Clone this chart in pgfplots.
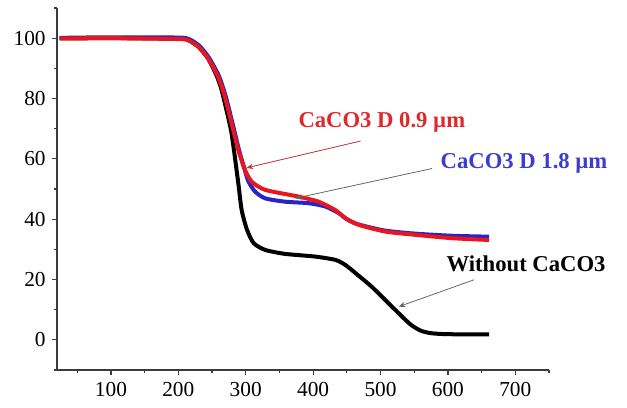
\documentclass[border=0pt]{standalone}
\usepackage{fontspec}
\setmainfont{Liberation Serif}
\usepackage{pgfplots}
\pgfplotsset{compat=1.18}
\usetikzlibrary{arrows.meta}
\definecolor{cred}{RGB}{232,22,30}
\definecolor{cblue}{RGB}{40,36,200}
\definecolor{lred}{RGB}{222,40,44}
\definecolor{lblue}{RGB}{60,60,205}
\definecolor{axgray}{RGB}{60,60,60}
\begin{document}
\begin{tikzpicture}
\useasboundingbox (-42.75pt,-27.75pt) rectangle (427.5pt,277.5pt);
\begin{axis}[
  at={(0,0)}, anchor=south west,
  scale only axis, width=369pt, height=271.5pt,
  xmin=20, xmax=750, ymin=-10, ymax=110,
  axis lines=left,
  axis line style={-, axgray, line width=1.1pt},
  xtick={100,200,...,700}, ytick={0,20,...,100},
  minor xtick={50,150,...,750}, minor ytick={-10,10,...,110},
  tick align=outside,
  major tick length=4pt, minor tick length=2.5pt,
  every tick/.style={axgray, line width=0.9pt},
  tick label style={font=\fontsize{16}{18}\selectfont},
  xticklabel style={yshift=-2pt},
  yticklabel style={xshift=-1pt},
  /pgf/number format/assume math mode=true,
  clip=false,
]
% Without CaCO3
\addplot[black, line width=3pt, smooth, tension=0.4] coordinates {
(24,99.9) (100,100) (200,99.8) (215,99.3) (230,97.1) (244,93.3) (257,87.5) (264,83)
(269,78.5) (279,68.4) (289,51.9) (294,43) (302,36.4) (312,32) (329,29.8) (358,28.5)
(403,27.6) (433,26.5) (448,24.8) (463,22.1) (487,17.6) (507,13.2) (527,8.8) (545,5)
(560,3.0) (575,2.2) (595,1.9) (630,1.8) (661,1.8)};
% CaCO3 D 1.8 um
\addplot[cblue, line width=3pt, smooth, tension=0.4] coordinates {
(24,100.1) (100,100.3) (200,100.2) (216,99.7) (231,97.5) (245,93.7) (260,87.6) (270,81)
(280,72.2) (290,63) (299,56) (304,52.5) (314,49.1) (329,46.9) (358,45.8) (393,45.3)
(418,44.2) (438,42) (452,39.7) (468,38.2) (507,36.2) (552,35.2) (606,34.5) (661,34.2)};
% CaCO3 D 0.9 um
\addplot[cred, line width=3pt, smooth, tension=0.4] coordinates {
(24,99.9) (100,100) (200,99.7) (215,99.3) (230,97.1) (244,93.3) (259,87.2) (269,80.6)
(279,71.8) (289,62.9) (299,56.3) (309,52.4) (329,49.7) (378,47.5) (408,45.8)
(433,43) (448,40.3) (468,38.1) (507,35.9) (552,34.8) (606,33.7) (661,33.1)};
% annotations
\node[lred, font=\fontsize{17}{19}\selectfont\bfseries] at (axis cs:502,72.2) {CaCO3 D 0.9 µm};
\draw[-{Stealth[length=5pt,width=4pt]}, draw={rgb,255:red,190;green,60;blue,60}, fill=cred, line width=0.6pt]
  (axis cs:470.5,65.9) -- (axis cs:301,57);
\node[lblue, font=\fontsize{17}{19}\selectfont\bfseries] at (axis cs:713,58.5) {CaCO3 D 1.8 µm};
\draw[-{Stealth[length=5pt,width=4pt]}, draw=gray!80!black, line width=0.6pt]
  (axis cs:576.6,56.8) -- (axis cs:373,46.9);
\node[black, font=\fontsize{17}{19}\selectfont\bfseries] at (axis cs:716,25.2) {Without CaCO3};
\draw[-{Stealth[length=5pt,width=4pt]}, draw=gray!80!black, line width=0.6pt]
  (axis cs:638.7,19.9) -- (axis cs:527,11);
\end{axis}
\end{tikzpicture}
\end{document}
